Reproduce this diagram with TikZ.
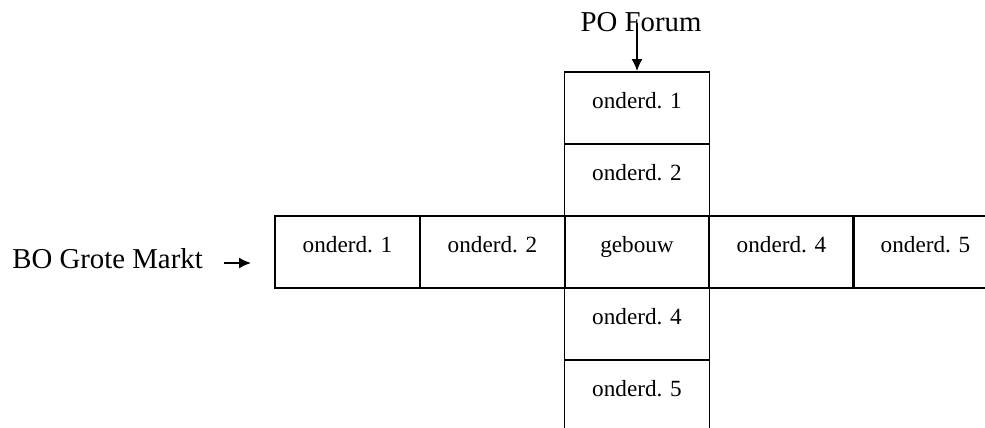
\documentclass[tikz,border=0pt]{standalone}
\usepackage{fontspec}
\setmainfont{Liberation Serif}
\usetikzlibrary{arrows.meta}

\begin{document}
\begin{tikzpicture}[x=0.5pt,y=-0.5pt,>={Latex[length=6pt,width=5.5pt]},
    cel/.style={draw,line width=0.9pt,minimum width=72.5pt,inner sep=1pt,
      text height=17pt,text depth=17pt,font=\fontsize{11.6}{13}\selectfont},
    lbl/.style={inner sep=0pt,font=\fontsize{14.4}{16}\selectfont}]
  \clip (0,0) rectangle (985,428);
  % verticale rij
  \node[cel] (v1) at (637,108) {onderd. 1};
  \node[cel] (v2) at (637,180) {onderd. 2};
  \node[cel] (geb) at (637,252) {gebouw};
  \node[cel] (v4) at (637,324) {onderd. 4};
  \node[cel] (v5) at (637,396) {onderd. 5};
  % horizontale rij
  \node[cel] (h1) at (347.5,252) {onderd. 1};
  \node[cel] (h2) at (492.5,252) {onderd. 2};
  \node[cel] (h4) at (781.5,252) {onderd. 4};
  \node[cel] (h5) at (925.5,252) {onderd. 5};
  % ingangen
  \node[lbl,anchor=base] (po) at (641,32) {PO Forum};
  \node[lbl,anchor=base west] (bo) at (12,268) {BO Grote Markt};
  \coordinate (bopijl) at (251,263);
  \draw[->,thick] (v1.north |- po.center) -- (v1.north);
  \draw[->,thick] (bopijl -| bo.east) ++(21,0) -- (bopijl);
\end{tikzpicture}
\end{document}
